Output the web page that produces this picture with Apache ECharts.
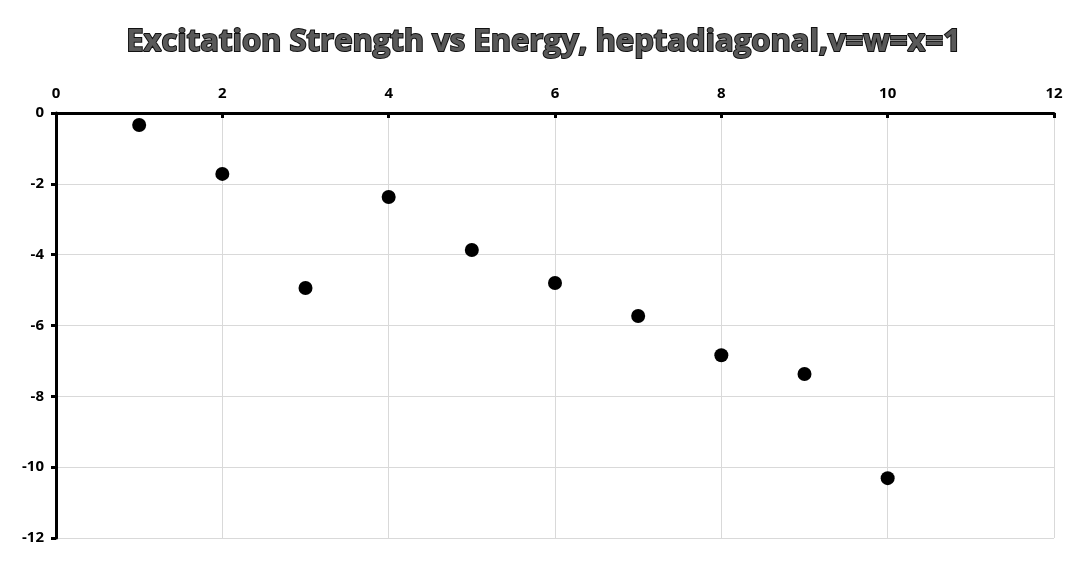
<!DOCTYPE html>
<html><head><meta charset="utf-8">
<script src="https://cdn.jsdelivr.net/npm/echarts@6/dist/echarts.min.js"></script>
<style>html,body{margin:0;padding:0;background:#fff}#c{width:1087px;height:562px}</style>
</head><body><div id="c"></div>
<script>
const energy = [1, 2, 3, 4, 5, 6, 7, 8, 9, 10];
const strength = [-0.34, -1.72, -4.94, -2.37, -3.87, -4.80, -5.73, -6.84, -7.37, -10.31];
const titleText = 'Excitation Strength vs Energy, heptadiagonal,v=w=x=1';

const chart = echarts.init(document.getElementById('c'));
chart.setOption({
  animation: false,
  backgroundColor: '#fff',
  title: {
    text: titleText, left: 'center', top: 22,
    textStyle: {
      fontFamily: 'Open Sans', fontWeight: 'bold', fontSize: 31,
      color: '#595959', textBorderColor: '#111', textBorderWidth: 2
    }
  },
  grid: { left: 56, right: 33, top: 113, bottom: 24, containLabel: false },
  xAxis: {
    type: 'value', position: 'top', min: 0, max: 12, interval: 2,
    axisLine: { show: true, onZero: false, lineStyle: { color: '#000', width: 3 } },
    axisTick: { show: true, inside: true, length: 5, lineStyle: { color: '#000', width: 3 } },
    axisLabel: { fontFamily: 'Open Sans', fontWeight: 'bold', fontSize: 15, color: '#000', margin: 12 },
    splitLine: { show: true, lineStyle: { color: '#d9d9d9', width: 1 } }
  },
  yAxis: {
    type: 'value', min: -12, max: 0, interval: 2,
    axisLine: { show: true, onZero: false, lineStyle: { color: '#000', width: 3 } },
    axisTick: { show: true, inside: false, length: 5, lineStyle: { color: '#000', width: 3 } },
    axisLabel: { fontFamily: 'Open Sans', fontWeight: 'bold', fontSize: 15, color: '#000', margin: 12 },
    splitLine: { show: true, lineStyle: { color: '#d9d9d9', width: 1 } }
  },
  series: [{
    type: 'scatter', symbol: 'circle', symbolSize: 14,
    itemStyle: { color: '#000', opacity: 1 },
    data: energy.map((e, i) => [e, strength[i]])
  }]
});
</script></body></html>
